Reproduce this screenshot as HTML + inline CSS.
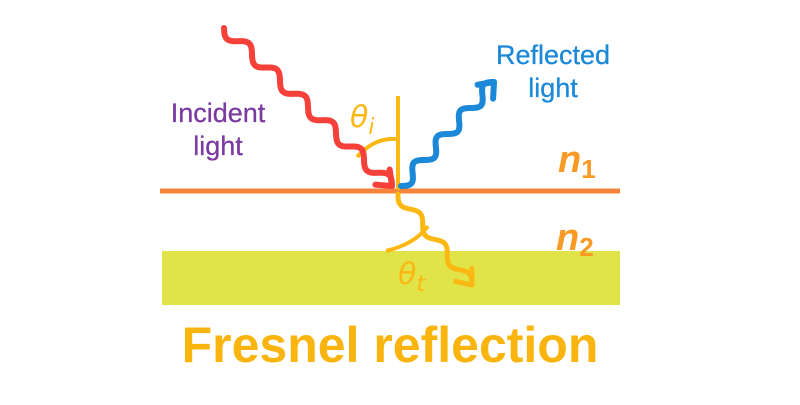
<!DOCTYPE html>
<html><head><meta charset="utf-8"><style>
body{margin:0;width:800px;height:400px;background:#fff;overflow:hidden;font-family:"Liberation Sans",sans-serif}
</style></head><body>
<svg id="s" width="800" height="400" viewBox="0 0 800 400">
<rect x="162" y="251" width="458" height="54" fill="#e1e448"/>
<line x1="160" y1="191" x2="620" y2="191" stroke="#f7843a" stroke-width="5"/>
<line x1="398" y1="96" x2="398" y2="190" stroke="#fbb812" stroke-width="4"/>
<path d="M357 157 Q375 137 397 139" fill="none" stroke="#fbb812" stroke-width="4"/>
<path d="M386 251 Q415 244 428 226" fill="none" stroke="#fbb812" stroke-width="4"/>
<g id="w" fill="none" stroke-linecap="round" stroke-linejoin="round"></g>
<text x="350" y="127" font-family="DejaVu Sans,sans-serif" font-style="italic" font-size="30" fill="#fbb812">θ<tspan font-size="22" dy="7">i</tspan></text>
<text x="398" y="284" font-family="DejaVu Sans,sans-serif" font-style="italic" font-size="30" fill="#fbb812">θ<tspan font-size="22" dy="7">t</tspan></text>
<text x="558" y="172" font-size="38" font-weight="bold" font-style="italic" fill="#f99a25">n<tspan font-size="26" dy="6" font-style="normal">1</tspan></text>
<text x="556" y="250" font-size="38" font-weight="bold" font-style="italic" fill="#f99a25">n<tspan font-size="26" dy="6" font-style="normal">2</tspan></text>
<g font-size="27" font-weight="bold" stroke-width="0.3">
<text x="218" y="122" text-anchor="middle" fill="#7a3aa0" stroke="#7a3aa0" font-weight="normal">Incident</text>
<text x="218" y="155" text-anchor="middle" fill="#7a3aa0" stroke="#7a3aa0" font-weight="normal">light</text>
<text x="553" y="64" text-anchor="middle" fill="#1b88d8" stroke="#1b88d8" font-weight="normal">Reflected</text>
<text x="553" y="97" text-anchor="middle" fill="#1b88d8" stroke="#1b88d8" font-weight="normal">light</text>
</g>
<text x="390" y="362" text-anchor="middle" font-size="50" font-weight="bold" fill="#f9b50d">Fresnel reflection</text>
</svg>
<script>
function wave(x1,y1,x2,y2,n,a,col,w){
 var dx=x2-x1,dy=y2-y1,L=Math.hypot(dx,dy),ux=dx/L,uy=dy/L,px=-uy,py=ux,d="";
 for(var i=0;i<=200;i++){var t=i/200,o=a*Math.sin(t*n*2*Math.PI);
  var x=x1+dx*t+px*o,y=y1+dy*t+py*o;d+=(i?"L":"M")+x.toFixed(1)+" "+y.toFixed(1);}
 var p=document.createElementNS("http://www.w3.org/2000/svg","path");
 p.setAttribute("d",d);p.setAttribute("stroke",col);p.setAttribute("stroke-width",w);
 document.getElementById("w").appendChild(p);
 var h=document.createElementNS("http://www.w3.org/2000/svg","path"),s=13;
 var bx=x2-ux*s,by=y2-uy*s;
 h.setAttribute("d","M"+(bx+px*s*0.8)+" "+(by+py*s*0.8)+"L"+x2+" "+y2+"L"+(bx-px*s*0.8)+" "+(by-py*s*0.8));
 h.setAttribute("stroke",col);h.setAttribute("stroke-width",w);
 document.getElementById("w").appendChild(h);
}
wave(224,28,392,186,6,6,"#f5413a",6);
wave(401,186,494,82,4,6,"#1b88d8",6);
wave(398,194,472,285,3,5,"#fbb812",5);
</script>
</body></html>
